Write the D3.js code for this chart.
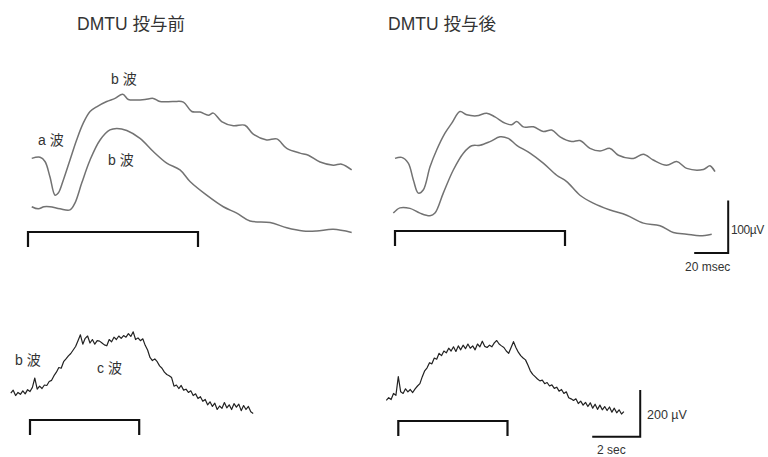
<!DOCTYPE html>
<html><head><meta charset="utf-8">
<script src="https://cdn.jsdelivr.net/npm/d3@7"></script>
<style>
html,body{margin:0;padding:0;background:#fff;}
text{font-family:"Liberation Sans","Noto Sans CJK JP",sans-serif;fill:#333;}
</style></head>
<body>
<script>
// ---- Data (ERG traces) ----
// Top panels: time in msec from stimulus onset, potential in µV (relative to stimulus marker level)
const titles = ["DMTU 投与前", "DMTU 投与後"];
const erg_before_upper = [[2.2,140],[7.1,142],[10,134],[12.9,105],[15.9,70],[17.8,74],[20.8,99],[24.7,137],[28.6,175],[32.5,207],[36.5,229],[40.4,238],[46.3,248],[51.2,254],[55.7,262],[59,252],[63.9,251],[68.8,252],[73.7,254],[77.6,248],[85.5,248],[91.4,247],[96.3,229],[101.2,228],[106.1,222],[109,226],[113.9,210],[120.8,202],[127.6,203],[132.5,186],[140.4,175],[146.3,177],[152.2,159],[160,150],[164.9,146],[171.8,133],[179.6,127],[184.5,129],[190.4,118]];
const erg_before_lower = [[2.2,48],[6.1,44],[9.4,48],[12.9,48],[18.8,44],[24.7,42],[27.6,55],[31.6,93],[36.5,137],[42.4,175],[48.2,194],[52.2,197],[58.1,193],[65.9,178],[73.7,153],[81.6,131],[89.4,118],[95.3,96],[105.1,70],[114.9,48],[122.8,36],[130.6,21],[142.4,18],[152.2,8],[161.9,2],[169.8,2],[179.6,5],[190.4,-1]];
const erg_after_upper = [[0,138],[3.9,140],[7.8,129],[10.8,97],[13.7,72],[16.6,78],[20.6,122],[24.5,154],[29.4,186],[33.4,205],[38.2,227],[42.2,221],[48.1,219],[53.9,224],[58.8,217],[64.7,205],[68.6,202],[71.6,208],[75.5,198],[81.4,198],[87.2,189],[92.2,192],[97.1,179],[103.9,170],[108.8,172],[114.7,157],[120.6,152],[126.5,157],[131.4,144],[140.2,138],[146.1,146],[151.9,135],[159.8,125],[165.7,132],[171.6,119],[181.4,117],[185.3,124],[188.2,113]];
const erg_after_lower = [[-1,34],[2.9,44],[8.8,43],[14.7,34],[20.6,29],[23.5,34],[28.4,72],[34.3,116],[40.2,148],[45.1,162],[50,163],[55.9,170],[61.8,179],[66.6,176],[71.6,163],[79.4,148],[87.2,129],[95.1,106],[101,94],[108.8,68],[116.6,53],[126.5,40],[136.3,30],[146.1,15],[155.9,10],[163.7,-3],[171.6,-6],[179.4,-9],[186.3,-6]];
// Bottom panels (c-wave): samples every 0.1 sec, potential in µV
const c_before_start = -0.8;
const c_before = [115,128,105,118,110,125,112,130,122,140,180,132,145,135,150,148,165,170,190,205,225,222,250,262,275,285,300,315,340,365,325,350,360,330,345,325,340,338,330,322,318,345,335,355,345,360,350,362,355,370,358,378,345,352,340,348,320,300,268,255,262,250,232,222,205,195,190,182,145,150,135,148,128,132,118,125,105,112,92,100,80,88,65,78,58,72,45,60,50,75,52,65,45,70,55,68,40,62,45,58,35,28];
const c_after_start = -0.5;
const c_after = [88,100,92,118,110,190,125,118,138,125,135,122,138,150,160,190,215,228,250,245,270,265,290,280,300,292,312,300,318,298,322,305,325,310,330,312,322,305,330,318,342,320,315,325,318,335,345,330,322,315,300,290,315,340,315,295,280,270,262,240,215,200,190,180,172,175,160,165,150,155,140,145,128,135,118,125,100,95,88,95,75,85,68,80,62,78,55,72,50,68,48,62,45,60,38,55,35,48,30,40];
const stim_ms = 100, stim_s = 4.55;
const scaleTop = {ms:20, uv:100, label_t:"20 msec", label_v:"100µV"};
const scaleBot = {s:2, uv:200, label_t:"2 sec", label_v:"200 µV"};
const waveLabels = ["a 波","b 波","c 波"];

const W=768,H=457;
const svg=d3.select("body").append("svg").attr("width",W).attr("height",H);
svg.append("rect").attr("width",W).attr("height",H).attr("fill","#fff");

// scales
const pxPerMs=1.7, pxPerUvTop=0.526, pxPerS=24, pxPerUvBot=0.2333;
const xTL=d3.scaleLinear().domain([0,100]).range([28,28+100*pxPerMs]);
const yTL=d3.scaleLinear().domain([0,100]).range([232,232-100*pxPerUvTop]);
const xTR=d3.scaleLinear().domain([0,100]).range([395,395+100*pxPerMs]);
const yTR=d3.scaleLinear().domain([0,100]).range([231,231-100*pxPerUvTop]);
const xBL=d3.scaleLinear().domain([0,1]).range([30,30+pxPerS]);
const yBL=d3.scaleLinear().domain([0,100]).range([420,420-100*pxPerUvBot]);
const xBR=d3.scaleLinear().domain([0,1]).range([398.3,398.3+pxPerS]);
const yBR=d3.scaleLinear().domain([0,100]).range([421,421-100*pxPerUvBot]);

function trace(data,x,y,color,w,curve){
  svg.append("path").datum(data)
    .attr("d",d3.line().x(d=>x(d[0])).y(d=>y(d[1])).curve(curve||d3.curveCatmullRom.alpha(0.5)))
    .attr("fill","none").attr("stroke",color).attr("stroke-width",w).attr("stroke-linejoin","round");
}
function stimBar(x,y,dur){
  const x0=x(0),x1=x(dur),y0=y(0);
  svg.append("path").attr("d",`M${x0},${y0+15}V${y0}H${x1}V${y0+15}`)
    .attr("fill","none").attr("stroke","#111").attr("stroke-width",2.2);
}
const gray="#727272";
trace(erg_before_upper,xTL,yTL,gray,1.5);
trace(erg_before_lower,xTL,yTL,gray,1.5);
trace(erg_after_upper,xTR,yTR,gray,1.5);
trace(erg_after_lower,xTR,yTR,gray,1.5);
const cb=c_before.map((v,i)=>[c_before_start+i*0.1,v]);
const ca=c_after.map((v,i)=>[c_after_start+i*0.1,v]);
trace(cb,xBL,yBL,"#222",1.2,d3.curveLinear);
trace(ca,xBR,yBR,"#222",1.2,d3.curveLinear);
stimBar(xTL,yTL,stim_ms);
stimBar(xTR,yTR,stim_ms);
stimBar(xBL,yBL,stim_s);
stimBar(xBR,yBR,stim_s);

// calibration bars
function calib(x,y,t0,dt,v0,dv){
  svg.append("path").attr("d",`M${x(t0)},${y(v0)}H${x(t0+dt)}V${y(v0+dv)}`)
    .attr("fill","none").attr("stroke","#111").attr("stroke-width",2);
}
calib(xTR,yTR,176,scaleTop.ms,-42,scaleTop.uv);
calib(xBR,yBR,8.08,scaleBot.s,-67,scaleBot.uv);

function label(txt,x,y,size,anchor){
  return svg.append("text").attr("x",x).attr("y",y).attr("font-size",size).attr("text-anchor",anchor||"start").text(txt);
}
label(titles[0],77,30,17.5);
label(titles[1],388,30,17.5);
label(waveLabels[1],111,84,14);
label(waveLabels[0],38,145,14);
label(waveLabels[1],108,165,14);
label(waveLabels[1],15,365,14);
label(waveLabels[2],97,373,14);
label(scaleTop.label_v,731,234,12).attr("letter-spacing",-0.4);
label(scaleTop.label_t,685,271,12);
label(scaleBot.label_v,647,419,12.5);
label(scaleBot.label_t,597,454,12);
</script>
</body></html>
